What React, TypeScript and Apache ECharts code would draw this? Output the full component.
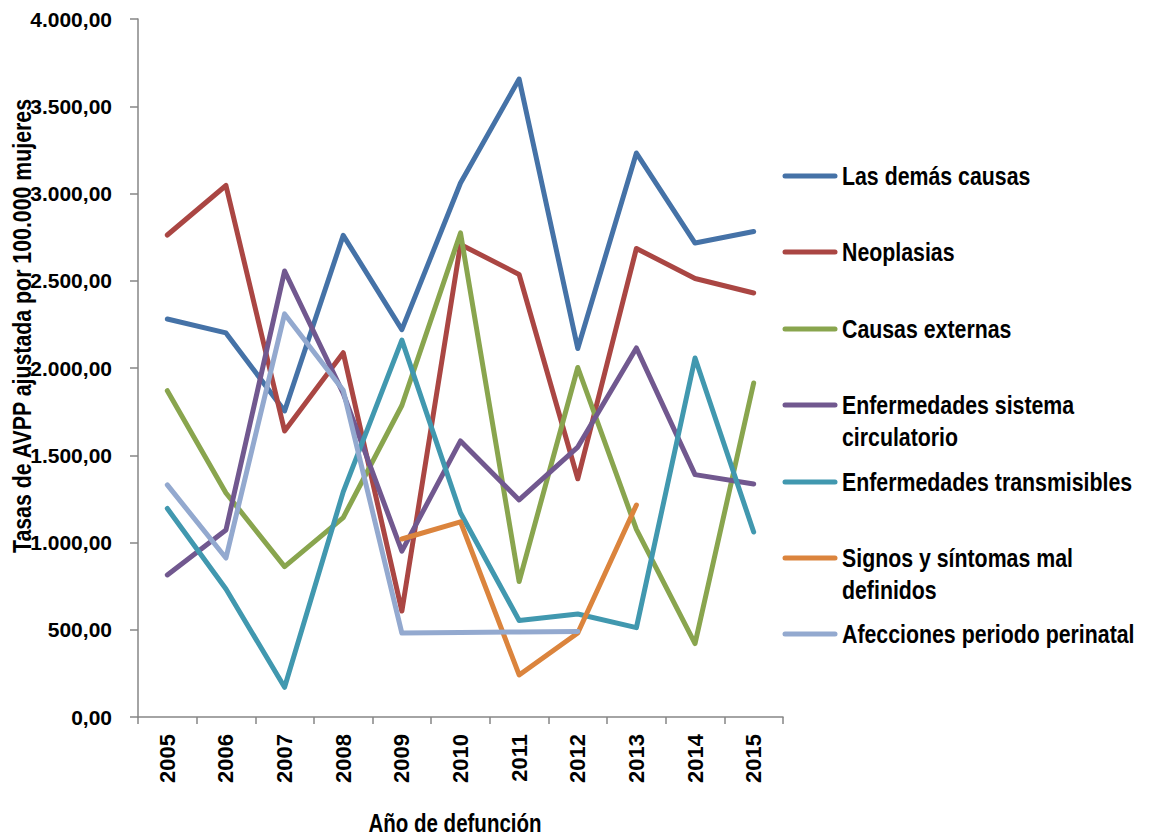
import React, { useEffect, useRef } from "react";
import * as echarts from "echarts";

const years = ["2005", "2006", "2007", "2008", "2009", "2010", "2011", "2012", "2013", "2014", "2015"];

const seriesNames = [
  "Las demás causas",
  "Neoplasias",
  "Causas externas",
  "Enfermedades sistema circulatorio",
  "Enfermedades transmisibles",
  "Signos y síntomas mal definidos",
  "Afecciones periodo perinatal",
];

const legendLabels = [
  "Las demás causas",
  "Neoplasias",
  "Causas externas",
  "Enfermedades sistema\ncirculatorio",
  "Enfermedades transmisibles",
  "Signos y síntomas mal\ndefinidos",
  "Afecciones periodo perinatal",
];

const colors = ["#4572A7", "#AA4643", "#89A54E", "#71588F", "#4198AF", "#DB843D", "#93A9CF"];

const demasCausas = [2281, 2201, 1754, 2760, 2220, 3060, 3656, 2112, 3232, 2716, 2782];
const neoplasias = [2762, 3046, 1639, 2088, 607, 2708, 2536, 1365, 2685, 2513, 2430];
const causasExternas = [1870, 1284, 862, 1143, 1785, 2774, 776, 2003, 1075, 421, 1914];
const circulatorio = [814, 1072, 2556, 1855, 951, 1582, 1244, 1547, 2115, 1389, 1335];
const transmisibles = [1195, 734, 170, 1290, 2160, 1169, 553, 590, 512, 2057, 1060];
const signosSintomas = [null, null, null, null, 1020, 1118, 241, 481, 1215, null, null];
const perinatal = [1330, 911, 2310, 1872, 481, 484, 487, 490, null, null, null];

const seriesData = [demasCausas, neoplasias, causasExternas, circulatorio, transmisibles, signosSintomas, perinatal];

const yTicks = { min: 0, max: 4000, interval: 500 };

const SANS = "'Liberation Sans', Arial, sans-serif";
const NARROW_SCALE = 0.82;

function fmt(v: number): string {
  const s = Math.round(v).toString().replace(/\B(?=(\d{3})+(?!\d))/g, ".");
  return s + ",00";
}

export default function App() {
  const ref = useRef<HTMLDivElement>(null);
  useEffect(() => {
    if (!ref.current) return;
    const chart = echarts.init(ref.current, undefined, { renderer: "svg" });
    const legendYs = [176, 252, 329, 405, 482, 558, 634];
    const graphics: any[] = [];
    legendLabels.forEach((lbl, i) => {
      graphics.push({
        type: "line",
        shape: { x1: 785, y1: legendYs[i], x2: 835, y2: legendYs[i] },
        style: { stroke: colors[i], lineWidth: 5, lineCap: "round" },
      });
      graphics.push({
        type: "text",
        x: 842,
        y: legendYs[i] - 16,
        scaleX: NARROW_SCALE,
        style: {
          text: lbl,
          font: `bold 26px ${SANS}`,
          fill: "#000",
          lineHeight: 32,
          textVerticalAlign: "top",
        },
      });
    });
    graphics.push({
      type: "text",
      x: 22,
      y: 326,
      rotation: Math.PI / 2,
      scaleX: NARROW_SCALE,
      style: {
        text: "Tasas de AVPP ajustada por 100.000 mujeres",
        font: `bold 26px ${SANS}`,
        fill: "#000",
        textAlign: "center",
        textVerticalAlign: "middle",
      },
    });
    graphics.push({
      type: "text",
      x: 455,
      y: 823,
      scaleX: NARROW_SCALE,
      style: {
        text: "Año de defunción",
        font: `bold 25px ${SANS}`,
        fill: "#000",
        textAlign: "center",
        textVerticalAlign: "middle",
      },
    });

    chart.setOption({
      animation: false,
      backgroundColor: "#ffffff",
      grid: { left: 138, right: 366, top: 19, bottom: 121, containLabel: false },
      xAxis: {
        type: "category",
        data: years,
        boundaryGap: true,
        axisLine: { lineStyle: { color: "#868686", width: 1.5 } },
        axisTick: { show: true, length: 7, alignWithLabel: false, lineStyle: { color: "#868686", width: 1.5 } },
        axisLabel: {
          rotate: 90,
          margin: 17,
          color: "#000",
          fontFamily: SANS,
          fontWeight: "bold",
          fontSize: 22,
          interval: 0,
        },
        splitLine: { show: false },
      },
      yAxis: {
        type: "value",
        min: yTicks.min,
        max: yTicks.max,
        interval: yTicks.interval,
        axisLine: { show: true, lineStyle: { color: "#868686", width: 1.5 } },
        axisTick: { show: true, length: 8, lineStyle: { color: "#868686", width: 1.5 } },
        axisLabel: {
          margin: 26,
          color: "#000",
          fontFamily: SANS,
          fontWeight: "bold",
          fontSize: 21,
          formatter: (v: number) => fmt(v),
        },
        splitLine: { show: false },
      },
      graphic: graphics,
      series: seriesData.map((d, i) => ({
        name: seriesNames[i],
        type: "line",
        data: d,
        showSymbol: false,
        symbol: "none",
        connectNulls: false,
        lineStyle: { color: colors[i], width: 5, cap: "round", join: "round" },
        itemStyle: { color: colors[i] },
        z: 2 + i,
      })),
    });
    return () => chart.dispose();
  }, []);
  return (
    <div
      ref={ref}
      style={{ position: "absolute", left: 0, top: 0, width: 1149, height: 838 }}
    />
  );
}
